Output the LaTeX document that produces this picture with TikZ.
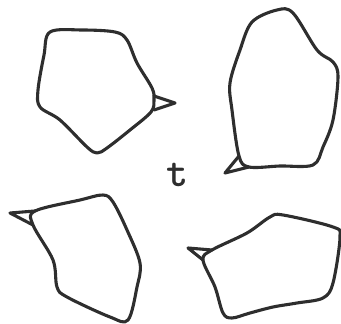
\documentclass[tikz,border=0pt]{standalone}
\usepackage{tikz}
\usetikzlibrary{positioning}

\begin{document}
\begin{tikzpicture}[x=1pt, y=-1pt,
  outline/.style={line width=3.1pt, draw=black!82, line join=round, line cap=round}]
  \useasboundingbox (0,0) rectangle (341,324);

  % Top left cell
  \draw[outline] plot[smooth cycle, tension=0.55] coordinates {
    (50,32) (82,30) (115,32) (127,40) (137,63) (152,88) (154,100) (151,112)
    (130,130) (107,148) (97,153) (87,147) (60,120) (40,107) (38,90) (44,55)};
  \draw[outline] (154,96) -- (175,103) -- (154,110);

  % Top right cell
  \draw[outline] plot[smooth cycle, tension=0.55] coordinates {
    (277,10) (293,13) (317,50) (333,62) (338,77) (333,120) (323,147)
    (313,165) (280,166) (249,167) (239,156) (232,110) (230,83) (240,50) (252,22)};
  \draw[outline] (239,156) -- (225,173) -- (249,167);

  % Bottom left cell
  \draw[outline] plot[smooth cycle, tension=0.55] coordinates {
    (35,211) (80,200) (103,195) (113,202) (127,230) (140,263) (137,287)
    (128,320) (110,317) (67,297) (57,287) (53,260) (33,225)};
  \draw[outline] (35,211) -- (10,213) -- (33,225);

  % Bottom right cell
  \draw[outline] plot[smooth cycle, tension=0.55] coordinates {
    (212,250) (247,233) (270,217) (283,215) (333,227) (340,237) (333,283)
    (323,298) (297,303) (273,307) (250,313) (232,318) (223,313) (215,287) (203,260)};
  \draw[outline] (212,250) -- (188,248) -- (203,260);

  % Label
  \node[font=\fontsize{42}{42}\selectfont\ttfamily\bfseries, text=black!82] (tlabel) at (178,175) {t};
\end{tikzpicture}
\end{document}
